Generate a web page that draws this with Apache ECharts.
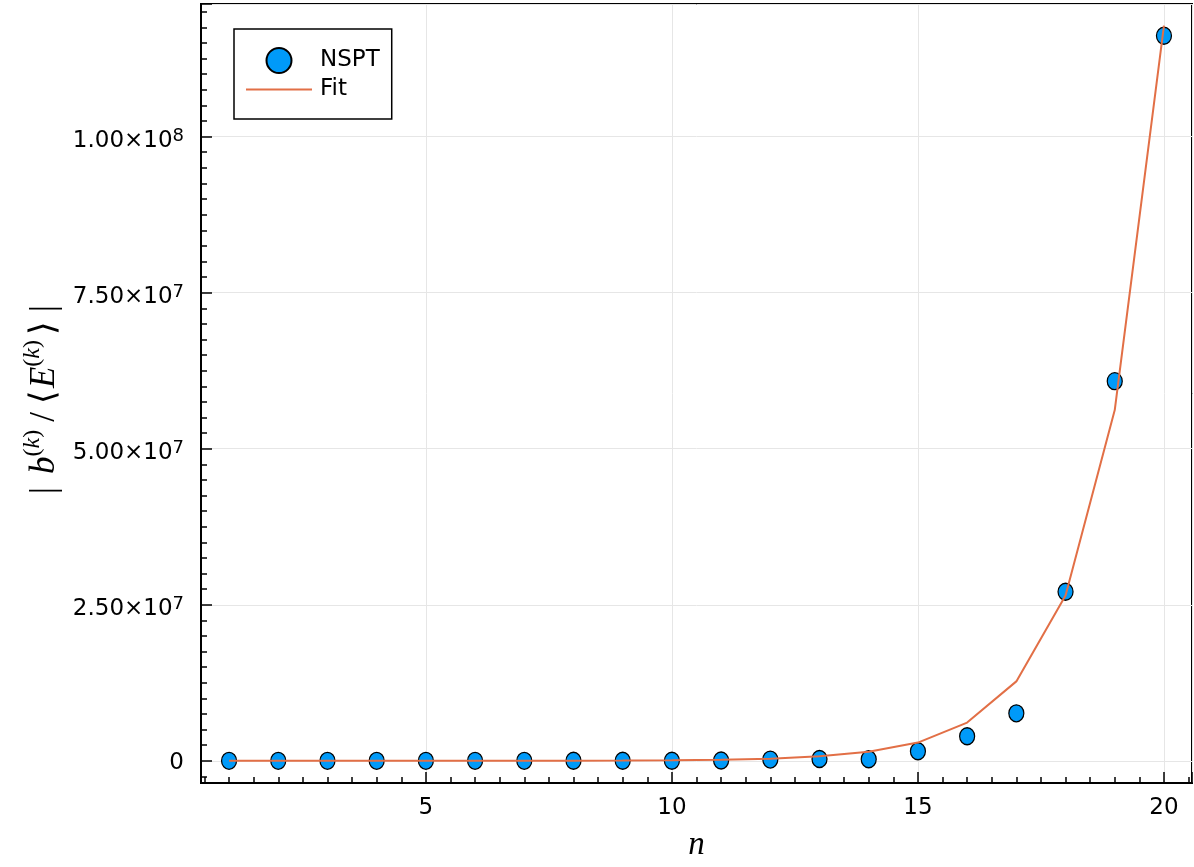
<!DOCTYPE html>
<html><head><meta charset="utf-8">
<script src="https://cdn.jsdelivr.net/npm/echarts@6/dist/echarts.min.js"></script>
<style>html,body{margin:0;padding:0;background:#fff}#chart{width:1194px;height:867px}</style>
</head><body><div id="chart"></div>
<script>
// ---- data ----
const nValues = [1, 2, 3, 4, 5, 6, 7, 8, 9, 10, 11, 12, 13, 14, 15, 16, 17, 18, 19, 20];
const nsptValues = [100, 200, 300, 500, 800, 1500, 3000, 6000, 12000, 20000, 50000, 200000, 300000, 250000, 1540000, 3930000, 7610000, 27080000, 60830000, 116170000];
const fitValues = [120, 250, 500, 1000, 2000, 4000, 9000, 18000, 38000, 80000, 170000, 350000, 720000, 1450000, 2930000, 6130000, 12730000, 26500000, 56200000, 117770000];
const seriesNames = ['NSPT', 'Fit'];

const sans = 'DejaVu Sans';
const serif = 'Liberation Serif';

function yLabel(v) {
  if (v === 0) return '{z|0}';
  const e = Math.floor(Math.log10(Math.abs(v)) + 1e-9);
  const m = (v / Math.pow(10, e)).toFixed(2);
  return '{b|' + m + '\u00d710}{s|' + e + '}';
}

const chart = echarts.init(document.getElementById('chart'), null, { renderer: 'canvas' });
const M = 35, S = 24, P = 12;
const base = { fontFamily: serif, fontSize: M, lineHeight: M, color: '#000' };
const mathRich = {
  bar1: Object.assign({}, base, { padding: [P, 13, 0, 0] }),
  bar2: Object.assign({}, base, { padding: [P, 12, 0, 9] }),
  i: Object.assign({}, base, { fontStyle: 'italic', padding: [P, 0, 0, 0] }),
  sl: Object.assign({}, base, { padding: [P, 8, 0, 8] }),
  la: Object.assign({}, base, { padding: [P, 2, 0, 0] }),
  ra: Object.assign({}, base, { padding: [P, 0, 0, 5] }),
  s: { fontFamily: serif, fontSize: S, lineHeight: S, verticalAlign: 'top', color: '#000' },
  si: { fontFamily: serif, fontStyle: 'italic', fontSize: S, lineHeight: S, verticalAlign: 'top', color: '#000' }
};

const option = {
  animation: false,
  backgroundColor: '#fff',
  grid: { left: 201, right: 2, top: 4, bottom: 83, show: true, borderColor: '#000', borderWidth: 2, containLabel: false },
  legend: {
    orient: 'vertical', left: 234, top: 29, padding: [18, 12, 18, 12],
    itemWidth: 66, itemHeight: 25, itemGap: 4, symbolKeepAspect: true,
    borderColor: '#000', borderWidth: 1.5, backgroundColor: '#fff', borderRadius: 0,
    textStyle: { fontFamily: sans, fontSize: 23, color: '#000', padding: [0, 0, 0, 3] },
    data: [
      { name: seriesNames[0], icon: 'circle' },
      { name: seriesNames[1], icon: 'path://M0,0L66,0L66,2L0,2Z' }
    ]
  },
  xAxis: {
    type: 'value', min: 0.43, max: 20.57, minInterval: 5, maxInterval: 5,
    name: 'n', nameLocation: 'middle', nameGap: 46,
    nameTextStyle: { fontFamily: serif, fontStyle: 'italic', fontSize: 33, color: '#000' },
    axisLine: { show: true, onZero: false, lineStyle: { color: '#000', width: 2 } },
    axisTick: { show: true, inside: true, length: 11, lineStyle: { color: '#000', width: 1.5 } },
    minorTick: { show: true, splitNumber: 10, length: 6, lineStyle: { color: '#000', width: 1.5 } },
    axisLabel: { showMinLabel: false, showMaxLabel: false, margin: 14, fontFamily: sans, fontSize: 23, color: '#000' },
    splitLine: { show: true, lineStyle: { color: '#e6e6e6', width: 1 } },
    minorSplitLine: { show: false }
  },
  yAxis: {
    type: 'value', min: -3550000, max: 121250000, minInterval: 25000000, maxInterval: 25000000,
    name: '{bar1||}{i|b}{s|(}{si|k}{s|)}{sl|/}{la|\u27e8}{i|E}{s|(}{si|k}{s|)}{ra|\u27e9}{bar2||}',
    nameLocation: 'middle', nameRotate: 90, nameGap: 137,
    nameTextStyle: { color: '#000', rich: mathRich },
    axisLine: { show: true, onZero: false, lineStyle: { color: '#000', width: 2 } },
    axisTick: { show: true, inside: true, length: 11, lineStyle: { color: '#000', width: 1.5 } },
    minorTick: { show: true, splitNumber: 10, length: 6, lineStyle: { color: '#000', width: 1.5 } },
    axisLabel: {
      showMinLabel: false, showMaxLabel: false, margin: 17, color: '#000',
      formatter: yLabel,
      rich: {
        z: { fontFamily: sans, fontSize: 23, lineHeight: 23, color: '#000', padding: [4, 0, 0, 0] },
        b: { fontFamily: sans, fontSize: 23, lineHeight: 23, color: '#000', padding: [9, 0, 0, 0] },
        s: { fontFamily: sans, fontSize: 18, lineHeight: 18, color: '#000', verticalAlign: 'top', padding: [2, 0, 0, 0] }
      }
    },
    splitLine: { show: true, lineStyle: { color: '#e6e6e6', width: 1 } }
  },
  series: [
    {
      name: seriesNames[0], type: 'scatter', z: 2,
      data: nValues.map((n, i) => [n, nsptValues[i]]),
      symbol: 'circle', symbolSize: [15, 17],
      itemStyle: { color: '#009af9', borderColor: '#000', borderWidth: 1.3, opacity: 1 }
    },
    {
      name: seriesNames[1], type: 'line', z: 3,
      data: nValues.map((n, i) => [n, fitValues[i]]),
      showSymbol: false, symbol: 'none',
      lineStyle: { color: '#e26f46', width: 2 },
      itemStyle: { color: '#e26f46' }
    }
  ]
};
chart.setOption(option);
</script>
</body></html>
